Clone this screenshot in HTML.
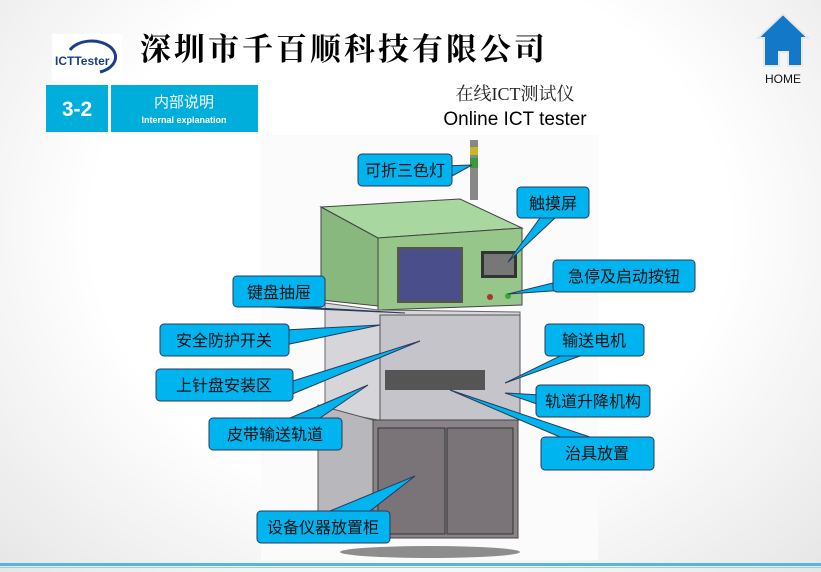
<!DOCTYPE html>
<html><head><meta charset="utf-8"><style>
body{margin:0;width:821px;height:572px;overflow:hidden;background:radial-gradient(ellipse at 50% 40%,#fff 55%,#e6e6e6 100%);font-family:"Liberation Sans","Noto Sans CJK SC",sans-serif;}
</style></head><body>
<svg width="821" height="572" xmlns="http://www.w3.org/2000/svg" style="position:absolute;left:0;top:0">
<rect x="261" y="135" width="337" height="425" fill="#fbfbfb"/>
<rect x="52" y="34" width="70" height="47" fill="#fff"/>
<path d="M70 50 A24 16 0 1 1 100 72" fill="none" stroke="#1a3f8a" stroke-width="3"/>
<text x="55" y="65" font-size="12" font-weight="bold" fill="#1a3f8a">ICTTester</text>
<text x="140" y="60" font-size="31" font-weight="bold" font-family="Liberation Serif,Noto Serif CJK SC,serif" letter-spacing="3" fill="#000">深圳市千百顺科技有限公司</text>
<rect x="46" y="85" width="62" height="47" fill="#00aedb"/>
<rect x="111" y="85" width="147" height="47" fill="#00aedb"/>
<text x="77" y="116" font-size="21" font-weight="bold" fill="#fff" text-anchor="middle">3-2</text>
<text x="184" y="107" font-size="15" fill="#fff" text-anchor="middle">内部说明</text>
<text x="184" y="123" font-size="9" font-weight="bold" fill="#fff" text-anchor="middle">Internal explanation</text>
<path d="M783 14 L808 38 L802 38 L802 66 L788 66 L788 52 L779 52 L779 66 L764 66 L764 38 L758 38 Z" fill="#1478c8" stroke="#e8e8e8" stroke-width="2"/>
<text x="783" y="83" font-size="12" text-anchor="middle" fill="#111">HOME</text>
<text x="515" y="100" font-size="18" text-anchor="middle" fill="#222" font-family="Liberation Serif,Noto Serif CJK SC,serif">在线ICT测试仪</text>
<text x="515" y="125" font-size="19" text-anchor="middle" fill="#000">Online ICT tester</text>
<rect x="470" y="140" width="8" height="60" fill="#888"/>
<rect x="470" y="147" width="8" height="8" fill="#c8b820"/><rect x="470" y="158" width="8" height="10" fill="#3a9a3a"/>
<polygon points="321,207 460,199 522,228 378,238" fill="#a8d8a0" stroke="#444"/>
<polygon points="321,207 378,238 378,306 321,300" fill="#88b87e" stroke="#444"/>
<polygon points="378,238 522,228 522,305 378,310" fill="#96c68a" stroke="#444"/>
<rect x="397" y="247" width="66" height="56" fill="#555" /><rect x="400" y="250" width="60" height="50" fill="#4a4e8a"/>
<rect x="481" y="251" width="36" height="27" fill="#333"/><rect x="484" y="254" width="30" height="21" fill="#777"/>
<circle cx="490" cy="297" r="3" fill="#a33"/><circle cx="508" cy="296" r="3" fill="#3a3"/>
<polygon points="325,303 378,310 520,312 520,420 378,420 325,410" fill="#d6d6da" stroke="#666"/>
<rect x="380" y="315" width="140" height="105" fill="#c4c4ca" stroke="#555"/>
<rect x="385" y="370" width="100" height="20" fill="#555"/>
<polygon points="318,405 373,420 373,540 318,525" fill="#b8b8bc" stroke="#555"/>
<rect x="373" y="420" width="145" height="118" fill="#8a8488" stroke="#444"/>
<rect x="378" y="428" width="67" height="106" fill="#7a7478" stroke="#333"/>
<rect x="447" y="428" width="66" height="106" fill="#7a7478" stroke="#333"/>
<ellipse cx="430" cy="552" rx="90" ry="6" fill="#444" opacity="0.6"/>
<g fill="#00b4f0" stroke="#2a3a5a" stroke-width="1">
<polygon points="440,166 472,165 452,176"/>
<polygon points="540,218 555,218 508,262"/>
<polygon points="565,280 565,290 508,294"/>
<polygon points="270,307 300,307 405,313"/>
<polygon points="285,330 285,345 380,325"/>
<polygon points="280,385 290,395 420,341"/>
<polygon points="290,418 320,418 368,385"/>
<polygon points="560,356 580,356 505,383"/>
<polygon points="540,395 540,405 505,393"/>
<polygon points="560,437 590,437 450,390"/>
<polygon points="330,511 370,511 415,476"/>
<rect x="358" y="154" width="94" height="32" rx="4"/>
<rect x="517" y="187" width="72" height="31" rx="4"/>
<rect x="553" y="260" width="142" height="32" rx="4"/>
<rect x="233" y="276" width="92" height="31" rx="4"/>
<rect x="160" y="324" width="129" height="32" rx="4"/>
<rect x="156" y="369" width="137" height="32" rx="4"/>
<rect x="209" y="418" width="133" height="32" rx="4"/>
<rect x="545" y="324" width="99" height="32" rx="4"/>
<rect x="536" y="385" width="114" height="32" rx="4"/>
<rect x="541" y="437" width="113" height="33" rx="4"/>
<rect x="257" y="511" width="133" height="32" rx="4"/>
</g>
<g font-size="16" fill="#111" text-anchor="middle">
<text x="405" y="176">可折三色灯</text>
<text x="553" y="209">触摸屏</text>
<text x="624" y="282">急停及启动按钮</text>
<text x="279" y="298">键盘抽屉</text>
<text x="224" y="346">安全防护开关</text>
<text x="224" y="391">上针盘安装区</text>
<text x="275" y="440">皮带输送轨道</text>
<text x="594" y="346">输送电机</text>
<text x="593" y="407">轨道升降机构</text>
<text x="597" y="459">治具放置</text>
<text x="323" y="533">设备仪器放置柜</text>
</g>
<rect x="0" y="563" width="821" height="3" fill="#5ab4e0"/>
<rect x="0" y="567" width="821" height="1" fill="#9ad0ee"/>
</svg>
</body></html>
